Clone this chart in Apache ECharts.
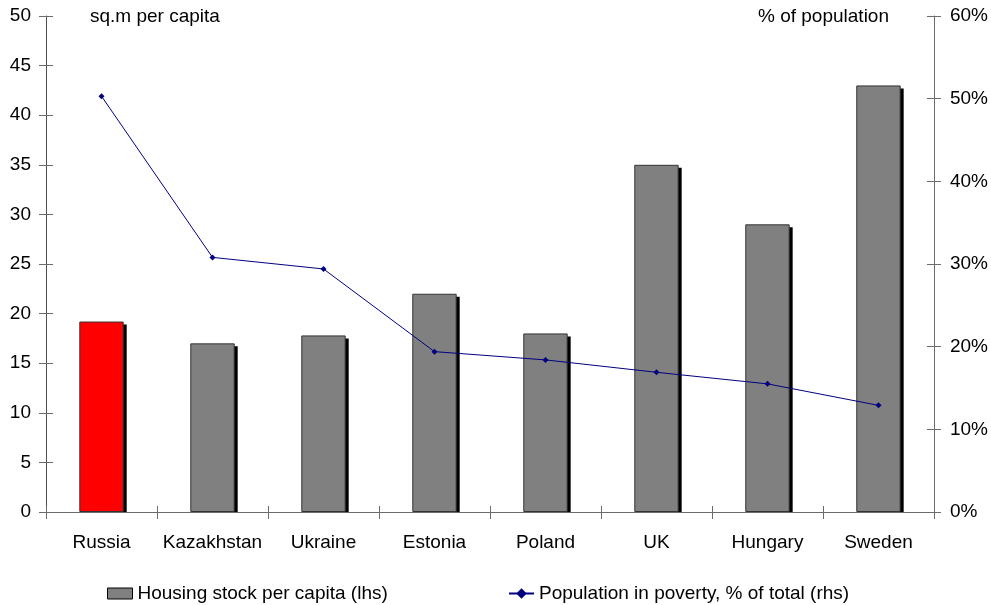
<!DOCTYPE html>
<html>
<head>
<meta charset="utf-8">
<script src="https://cdn.jsdelivr.net/npm/echarts@6/dist/echarts.min.js"></script>
<style>
  html, body { margin: 0; padding: 0; background: #fff; }
  #chart { width: 991px; height: 605px; }
</style>
</head>
<body>
<div id="chart"></div>
<script>
// Housing stock vs. poverty by country
const countries = ['Russia', 'Kazakhstan', 'Ukraine', 'Estonia', 'Poland', 'UK', 'Hungary', 'Sweden'];
const housingPerCapita = [19.2, 17.0, 17.8, 22.0, 18.0, 35.0, 29.0, 43.0];
const povertyShare = [50.3, 30.8, 29.4, 19.4, 18.4, 16.9, 15.5, 12.9];
const leftTicks = { min: 0, max: 50, step: 5 };
const rightTicks = { min: 0, max: 60, step: 10 };

const FONT = 'Liberation Sans, Arial, sans-serif';
const FS = 19;
const AXIS_COLOR = '#6b6b6b';
const BAR_RATIO = 0.4;
const highlight = 'Russia';

const chart = echarts.init(document.getElementById('chart'), null, { renderer: 'canvas' });

const barData = countries.map((c, i) => ({
  value: housingPerCapita[i],
  itemStyle: { color: c === highlight ? '#ff0000' : '#808080' }
}));
const shadowData = countries.map((c, i) => [i, housingPerCapita[i]]);

// hard drop shadow behind each bar, kept above the category axis
function renderShadow(params, api) {
  const top = api.coord([api.value(0), api.value(1)]);
  const base = api.coord([api.value(0), 0]);
  const w = api.size([1, 0])[0] * BAR_RATIO;
  return {
    type: 'rect',
    shape: { x: top[0] - w / 2 + 3, y: top[1] + 3, width: w, height: base[1] - top[1] - 3 },
    style: { fill: '#000' }
  };
}

// hidden companion axes supply the inward half of each crossing tick
const ghostY = (pos, t) => ({
  type: 'value', position: pos, min: t.min, max: t.max, interval: t.step,
  axisLine: { show: false }, axisLabel: { show: false }, splitLine: { show: false },
  axisTick: { show: true, inside: true, length: 7, lineStyle: { color: AXIS_COLOR } }
});

chart.setOption({
  animation: false,
  textStyle: { fontFamily: FONT },
  grid: { left: 46, right: 57, top: 16, bottom: 93, containLabel: false },
  title: [
    { text: 'sq.m per capita', left: 85, top: 2, textStyle: { fontFamily: FONT, fontSize: FS, fontWeight: 'normal', color: '#000' } },
    { text: '% of population', left: 753, top: 2, textStyle: { fontFamily: FONT, fontSize: FS, fontWeight: 'normal', color: '#000' } }
  ],
  legend: [
    {
      data: ['Housing stock per capita (lhs)'],
      left: 102, top: 579, itemWidth: 25, itemHeight: 11, itemGap: 6,
      icon: 'rect',
      textStyle: { fontFamily: FONT, fontSize: FS, color: '#000', padding: [0, 0, 0, 0] },
      itemStyle: { color: '#808080', borderColor: '#000', borderWidth: 1 }
    },
    {
      data: ['Population in poverty, % of total (rhs)'],
      left: 503, top: 579, itemWidth: 25, itemHeight: 13,
      textStyle: { fontFamily: FONT, fontSize: FS, color: '#000', padding: [0, 0, 0, 0] }
    }
  ],
  xAxis: [
    {
      type: 'category', data: countries, position: 'bottom',
      axisLine: { show: true, lineStyle: { color: AXIS_COLOR, width: 1 } },
      axisTick: { show: true, length: 7, lineStyle: { color: AXIS_COLOR } },
      axisLabel: { color: '#000', fontSize: FS, fontFamily: FONT, margin: 21, interval: 0 }
    },
    {
      type: 'category', data: countries, position: 'bottom',
      axisLine: { show: false },
      axisTick: { show: true, inside: true, length: 6, lineStyle: { color: AXIS_COLOR } },
      axisLabel: { show: false }
    }
  ],
  yAxis: [
    {
      type: 'value', position: 'left', min: leftTicks.min, max: leftTicks.max, interval: leftTicks.step,
      axisLine: { show: true, lineStyle: { color: '#4d4d4d' } },
      axisTick: { show: true, length: 7, lineStyle: { color: AXIS_COLOR } },
      axisLabel: { color: '#000', fontSize: FS, fontFamily: FONT, margin: 15 },
      splitLine: { show: false }
    },
    {
      type: 'value', position: 'right', min: rightTicks.min, max: rightTicks.max, interval: rightTicks.step,
      axisLine: { show: true, lineStyle: { color: AXIS_COLOR } },
      axisTick: { show: true, length: 7, lineStyle: { color: AXIS_COLOR } },
      axisLabel: { color: '#000', fontSize: FS, fontFamily: FONT, margin: 16, formatter: v => v + '%' },
      splitLine: { show: false }
    },
    ghostY('left', leftTicks),
    ghostY('right', rightTicks)
  ],
  series: [
    {
      name: 'bar shadow',
      type: 'custom', xAxisIndex: 0, yAxisIndex: 0,
      data: shadowData, renderItem: renderShadow, z: 1, silent: true
    },
    {
      name: 'Housing stock per capita (lhs)',
      type: 'bar', xAxisIndex: 0, yAxisIndex: 0,
      data: barData, barWidth: (BAR_RATIO * 100) + '%', z: 2,
      itemStyle: { borderColor: '#333', borderWidth: 1 }
    },
    {
      name: 'Population in poverty, % of total (rhs)',
      type: 'line', xAxisIndex: 0, yAxisIndex: 1,
      data: povertyShare, z: 5,
      symbol: 'diamond', symbolSize: 6, showSymbol: true,
      lineStyle: { color: '#000080', width: 1 },
      itemStyle: { color: '#000080' }
    }
  ]
});
</script>
</body>
</html>
